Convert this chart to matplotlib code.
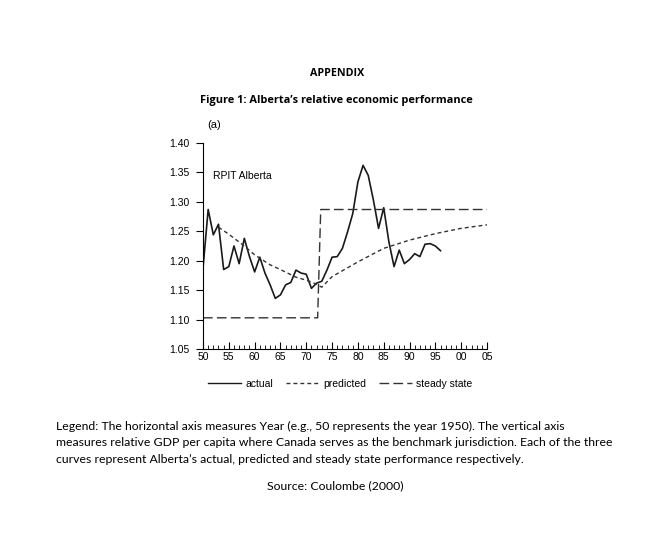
import numpy as np
import matplotlib
matplotlib.use("Agg")
import matplotlib.pyplot as plt
from matplotlib.lines import Line2D

# data
years_actual = list(range(50, 97))
actual = [1.187, 1.287, 1.244, 1.262, 1.185, 1.190, 1.225, 1.195, 1.238, 1.207,
          1.181, 1.206, 1.179, 1.159, 1.136, 1.142, 1.159, 1.163, 1.184, 1.179,
          1.177, 1.153, 1.162, 1.165, 1.184, 1.206, 1.207, 1.221, 1.249, 1.280,
          1.334, 1.362, 1.345, 1.303, 1.255, 1.290, 1.232, 1.190, 1.218, 1.195,
          1.202, 1.212, 1.207, 1.228, 1.229, 1.225, 1.217]

years_pred = [53, 55, 58, 60, 63, 65, 68, 70, 72, 73, 75, 80, 85, 90, 95, 100, 105]
predicted = [1.257, 1.245, 1.225, 1.210, 1.193, 1.185, 1.172, 1.167, 1.160, 1.155,
             1.173, 1.198, 1.221, 1.235, 1.246, 1.255, 1.261]

years_steady = [50, 72.2, 72.8, 105]
steady = [1.103, 1.103, 1.287, 1.287]

year_ticks = list(range(50, 106, 5))
year_labels = ['50', '55', '60', '65', '70', '75', '80', '85', '90', '95', '00', '05']
y_ticks = [1.05, 1.10, 1.15, 1.20, 1.25, 1.30, 1.35, 1.40]

W, H = 646, 547
fig = plt.figure(figsize=(W / 100, H / 100), dpi=100)

def px(x, y):
    return x / W, 1 - y / H

pred_dash = (2.8, 2.2)
steady_dash = (7, 3)

ax = fig.add_axes([203 / W, 1 - 349 / H, (487 - 203) / W, (349 - 143) / H])
ax.plot(years_actual, actual, color='#1a1a1a', lw=1.2)
ax.plot(years_pred, predicted, color='#333333', lw=1.0, dashes=pred_dash)
ax.plot(years_steady, steady, color='#333333', lw=1.0, dashes=steady_dash)

ax.set_xlim(50, 105)
ax.set_ylim(1.05, 1.40)
ax.spines['top'].set_visible(False)
ax.spines['right'].set_visible(False)
ax.set_xticks(year_ticks)
ax.set_xticklabels(year_labels)
ax.set_xticks(range(50, 106), minor=True)
ax.set_yticks(y_ticks)
ax.set_yticklabels(['%.2f' % v for v in y_ticks])
ax.tick_params(axis='x', direction='in', length=5, labelsize=7.5, pad=2)
ax.tick_params(axis='x', which='minor', direction='in', length=3)
ax.tick_params(axis='y', direction='out', length=5, labelsize=7.5, pad=5)
for lab in ax.get_xticklabels() + ax.get_yticklabels():
    lab.set_family('Liberation Sans')
ax.text(52, 1.338, 'RPIT Alberta', fontsize=7.5, family='Liberation Sans')

fig.text(*px(207, 125), '(a)', fontsize=8, family='Liberation Sans', va='center')

# legend below the plot
handles = [Line2D([], [], color='#1a1a1a', lw=1.0),
           Line2D([], [], color='#333333', lw=1.0, dashes=pred_dash),
           Line2D([], [], color='#333333', lw=1.0, dashes=steady_dash)]
fig.legend(handles, ['actual', 'predicted', 'steady state'], loc='center',
           bbox_to_anchor=px(340, 384), ncol=3, frameon=False,
           handlelength=3.2, columnspacing=1.2, handletextpad=0.4,
           prop={'family': 'Liberation Sans', 'size': 7.5})

fig.text(*px(337, 73), 'APPENDIX', fontsize=7.7, fontweight='bold',
         family='Open Sans', ha='center', va='center')
fig.text(*px(336.5, 101), 'Figure 1: Alberta\u2019s relative economic performance',
         fontsize=7.95, fontweight='bold', family='Open Sans', ha='center', va='center')

caption = ['Legend: The horizontal axis measures Year (e.g., 50 represents the year 1950). The vertical axis',
           'measures relative GDP per capita where Canada serves as the benchmark jurisdiction. Each of the three',
           'curves represent Alberta\u2019s actual, predicted and steady state performance respectively.']
for i, line in enumerate(caption):
    fig.text(*px(56, 426 + i * 16.7), line, fontsize=8.8, family='Lato', va='center')
fig.text(*px(335.5, 486), 'Source: Coulombe (2000)', fontsize=8.8, family='Lato',
         ha='center', va='center')

fig.savefig('out.png', dpi=100)
